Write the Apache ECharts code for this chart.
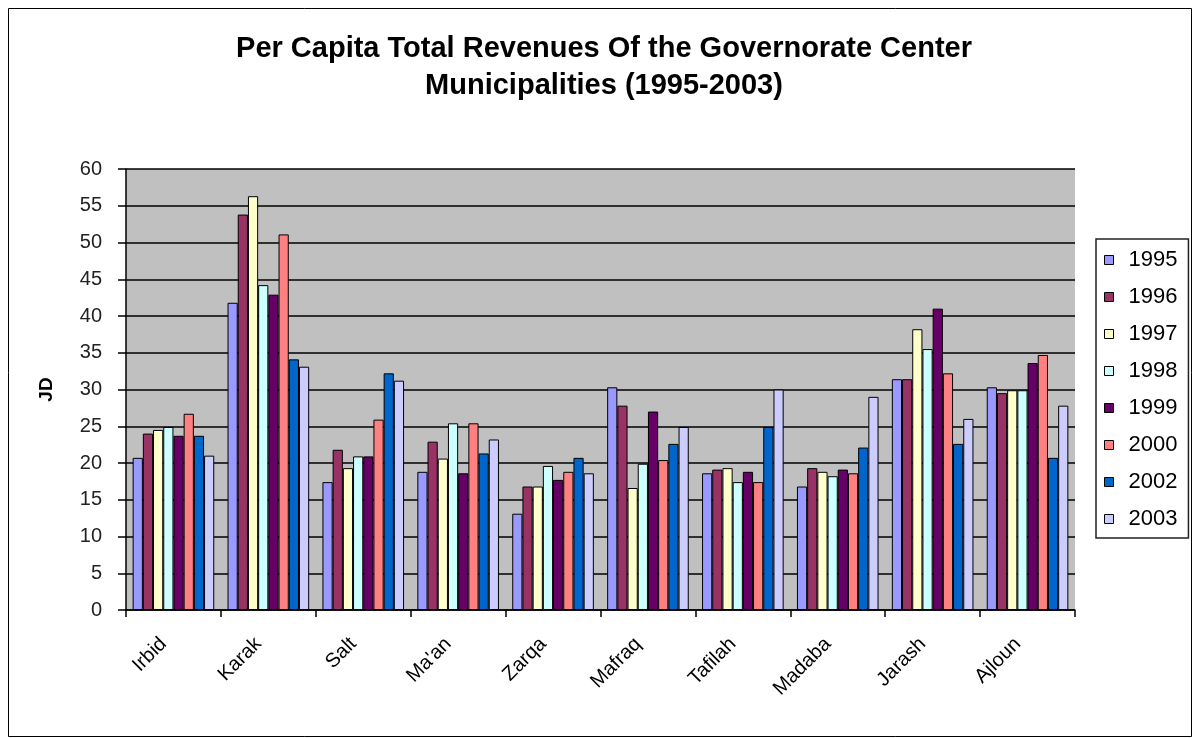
<!DOCTYPE html>
<html><head><meta charset="utf-8">
<script src="https://cdn.jsdelivr.net/npm/echarts@6/dist/echarts.min.js"></script>
<style>html,body{margin:0;padding:0;background:#fff}#c{width:1201px;height:738px}</style>
</head><body><div id="c"></div>
<script>
const categories = ["Irbid","Karak","Salt","Ma'an","Zarqa","Mafraq","Tafilah","Madaba","Jarash","Ajloun"];
const years = ["1995","1996","1997","1998","1999","2000","2002","2003"];
const colors = ["#9999ff","#993366","#ffffcc","#ccffff","#660066","#ff8080","#0066cc","#ccccff"];
const v1995 = [20.7,41.8,17.4,18.8,13.1,30.3,18.6,16.8,31.4,30.3];
const v1996 = [24.0,53.8,21.8,22.9,16.8,27.8,19.1,19.3,31.4,29.5];
const v1997 = [24.5,56.3,19.3,20.6,16.8,16.6,19.3,18.8,38.2,29.9];
const v1998 = [24.9,44.2,20.9,25.4,19.6,19.9,17.4,18.2,35.5,29.9];
const v1999 = [23.7,42.9,20.9,18.6,17.7,27.0,18.8,19.1,41.0,33.6];
const v2000 = [26.7,51.1,25.9,25.4,18.8,20.4,17.4,18.6,32.2,34.7];
const v2002 = [23.7,34.1,32.2,21.3,20.7,22.6,24.9,22.1,22.6,20.7];
const v2003 = [21.0,33.1,31.2,23.2,18.6,24.9,30.0,29.0,26.0,27.8];
const yTicks = [0,5,10,15,20,25,30,35,40,45,50,55,60];
const values = [v1995,v1996,v1997,v1998,v1999,v2000,v2002,v2003];
const FONT = "'Liberation Sans', Arial, sans-serif";

const chart = echarts.init(document.getElementById('c'));
chart.setOption({
  animation:false,
  backgroundColor:'#fff',
  title:{
    text:"Per Capita Total Revenues Of the Governorate Center\nMunicipalities (1995-2003)",
    left:604, textAlign:'center', top:30, padding:0,
    textStyle:{fontFamily:FONT,fontSize:29,fontWeight:'bold',color:'#000',lineHeight:37}
  },
  graphic:[{type:'rect',shape:{x:8.5,y:8.5,width:1183,height:728},style:{fill:'none',stroke:'#000',lineWidth:1}}],
  legend:{
    orient:'vertical', left:1096, top:239,
    data:years, icon:'rect', itemWidth:9, itemHeight:9, itemGap:15,
    padding:[10,11,8,8],
    borderColor:'#222', borderWidth:1.5, backgroundColor:'#fff',
    itemStyle:{borderColor:'#000',borderWidth:1},
    textStyle:{fontFamily:FONT,fontSize:22,color:'#000',lineHeight:22,padding:[0,0,0,10]}
  },
  grid:{left:126,top:169,width:949,height:441,containLabel:false,backgroundColor:'#c0c0c0',show:true,borderWidth:0},
  xAxis:{
    type:'category', data:categories,
    axisLine:{lineStyle:{color:'#000',width:1.5}},
    axisTick:{show:true,length:7,lineStyle:{color:'#000',width:1.5}},
    axisLabel:{rotate:45,fontFamily:FONT,fontSize:20,color:'#000',margin:21,padding:[0,14,0,0]}
  },
  yAxis:{
    type:'value', min:0, max:60, interval:5,
    name:'JD', nameLocation:'middle', nameGap:70, nameRotate:90,
    nameTextStyle:{fontFamily:FONT,fontSize:19,fontWeight:'bold',color:'#000'},
    axisLine:{show:true,lineStyle:{color:'#000',width:1.5}},
    axisTick:{show:true,length:8,lineStyle:{color:'#000',width:1.5}},
    splitLine:{lineStyle:{color:'#000',width:1.5}},
    axisLabel:{fontFamily:FONT,fontSize:20,color:'#222',margin:24,
      formatter:(v)=> yTicks.includes(v) ? String(v) : ''}
  },
  series: years.map((y,i)=>({
    name:y, type:'bar', data:values[i],
    barGap:'0%', barCategoryGap:'14%',
    itemStyle:{color:colors[i],borderColor:'#000',borderWidth:1}
  }))
});
</script></body></html>
